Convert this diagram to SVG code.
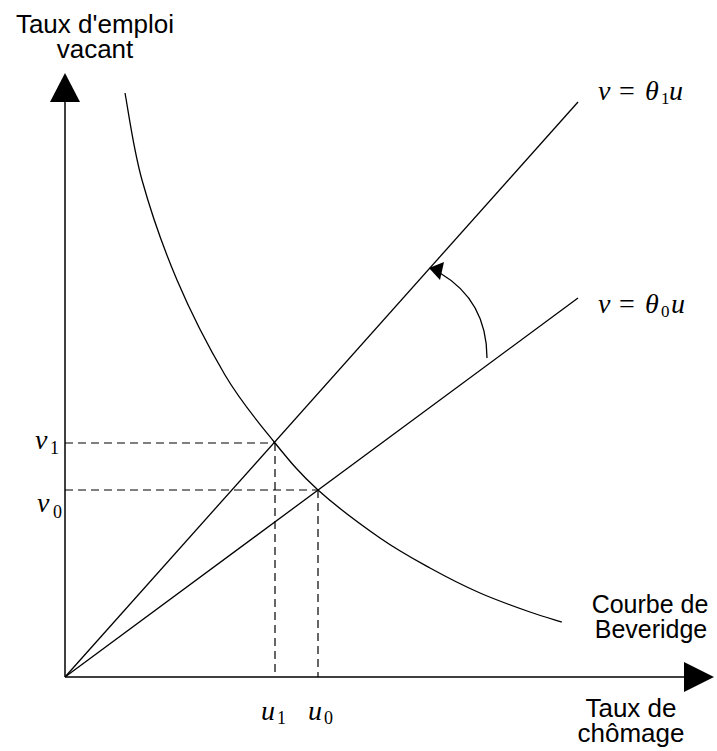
<svg xmlns="http://www.w3.org/2000/svg" width="717" height="751" viewBox="0 0 717 751">
<style>
.ln{fill:none;stroke:#000;stroke-width:1.3}
.ax{fill:none;stroke:#000;stroke-width:1.5}
.dash{fill:none;stroke:#000;stroke-width:1.2;stroke-dasharray:8 5}
.lab{font-family:"Liberation Sans",Arial,sans-serif;font-size:26px;fill:#000;text-anchor:middle}
.m{font-family:"Liberation Serif","Times New Roman",serif;font-size:28px;fill:#000}
.mi{font-style:italic}
.sub{font-size:17px}
.bsub{font-size:18px}
</style>
<rect width="717" height="751" fill="#fff"/>
<g id="axes">
<line class="ax" x1="65" y1="677" x2="65" y2="100"/>
<polygon points="50,102 80,102 65,73" fill="#000"/>
<line class="ax" x1="65" y1="677" x2="686" y2="677"/>
<polygon points="684,662 684,692 714,677" fill="#000"/>
</g>
<g id="connectors">
<line class="ln" x1="65" y1="677" x2="578" y2="102"/>
<line class="ln" x1="65" y1="677" x2="578" y2="298"/>
<path class="ln" d="M125,93 C127.8,107.5 133.3,148.8 142,180 C150.7,211.2 163.2,247.5 177,280 C190.8,312.5 209,347.8 225,375 C241,402.2 259.5,423.8 275,443 C290.5,462.2 300.5,474.2 318,490 C335.5,505.8 361.3,525 380,538 C398.7,551 413.3,558.8 430,568 C446.7,577.2 463.3,585.7 480,593 C496.7,600.3 516.3,607.2 530,612 C543.7,616.8 556.7,620.3 562,622"/>
<line class="dash" x1="65" y1="443" x2="275" y2="443"/>
<line class="dash" x1="65" y1="490" x2="318" y2="490"/>
<line class="dash" x1="275" y1="443" x2="275" y2="677"/>
<line class="dash" x1="318" y1="490" x2="318" y2="677"/>
<path class="ln" d="M487,358 C487,322 472,292 440,273"/>
<polygon points="429,268 444,262 440,280" fill="#000"/>
</g>
<g id="ylabel">
<text class="lab" x="95" y="33">Taux d'emploi</text>
<text class="lab" x="95" y="58">vacant</text>
</g>
<g id="xlabel">
<text class="lab" x="631" y="717">Taux de</text>
<text class="lab" x="631" y="742">chômage</text>
</g>
<g id="beveridge">
<text class="lab" x="650" y="613" style="font-size:25px">Courbe de</text>
<text class="lab" x="651" y="638" style="font-size:25px">Beveridge</text>
</g>
<g id="eq1">
<text class="m" y="100"><tspan class="mi" x="598">v</tspan><tspan x="619">=</tspan><tspan class="mi" x="645">θ</tspan><tspan class="sub" x="661" dy="4">1</tspan><tspan class="mi" x="669" dy="-4">u</tspan></text>
</g>
<g id="eq0">
<text class="m" y="313"><tspan class="mi" x="598">v</tspan><tspan x="619">=</tspan><tspan class="mi" x="645">θ</tspan><tspan class="sub" x="661" dy="4">0</tspan><tspan class="mi" x="671" dy="-4">u</tspan></text>
</g>
<g id="v1"><text class="m" y="449"><tspan class="mi" x="35">v</tspan><tspan class="bsub" x="50" dy="5">1</tspan></text></g>
<g id="v0"><text class="m" y="512"><tspan class="mi" x="37">v</tspan><tspan class="bsub" x="53" dy="6">0</tspan></text></g>
<g id="u1"><text class="m" y="720"><tspan class="mi" x="261">u</tspan><tspan class="bsub" x="277" dy="4">1</tspan></text></g>
<g id="u0"><text class="m" y="720"><tspan class="mi" x="308">u</tspan><tspan class="bsub" x="324" dy="4">0</tspan></text></g>
</svg>
